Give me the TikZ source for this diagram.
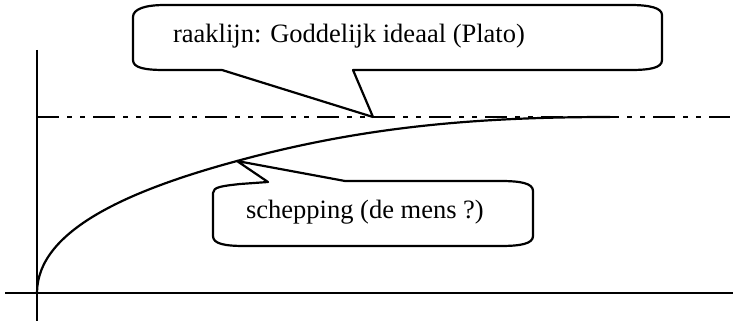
\documentclass[tikz,border=0pt]{standalone}
\usepackage{fontspec}
\setmainfont{Liberation Serif}
\usetikzlibrary{positioning}
\usetikzlibrary{calc}

\begin{document}
\begin{tikzpicture}[x=1pt,y=-1pt,line width=2.2pt,line join=round,
			font=\fontsize{26.5}{30}\selectfont]
			\tikzstyle{axis}=[line width=2pt]
			\tikzstyle{raak}=[line width=2.4pt,dash pattern=on 22pt off 8pt on 5pt off 8pt on 5pt off 8pt]
			\tikzstyle{callout}=[draw,line width=2.2pt]
			\tikzstyle{label}=[inner sep=0pt,anchor=base west]
			
			\useasboundingbox (0,0) rectangle (733,321);
			
			\coordinate (O)   at (37,293);
			\coordinate (Y_t) at (37,50);
			\coordinate (Y_b) at (37,321);
			\coordinate (X_l) at (5,293);
			\coordinate (X_r) at (733,293);
			\coordinate (R_l) at (37,117);
			\coordinate (R_r) at (730,117);
			\coordinate (E)   at (610,117);
			\coordinate (T_0) at (373,117);
			\coordinate (T_1) at (237,161);
			
			% assen
			\draw[axis] (Y_t) -- (Y_b);
			\draw[axis] (X_l) -- (X_r);
			
			% raaklijn
			\draw[raak] (R_l) -- (R_r);
			
			% kromme
			\draw (O) .. controls (37,230) and (130,190) .. (T_1)
				.. controls (365,126) and (480,117) .. (E);
			
			% ballonnen
			\draw[callout,fill=white] (133,17) -- (133,60) .. controls (133,68) and (145,70) .. (165,70)
				-- (222,70) -- (T_0) -- (353,70) -- (630,70) .. controls (650,70) and (662,68) .. (662,60)
				-- (662,15) .. controls (662,8) and (650,5) .. (630,5) -- (165,5)
				.. controls (145,5) and (133,9) .. (133,17) -- cycle;
			\draw[callout,fill=white] (213,193) -- (213,236) .. controls (213,244) and (225,246) .. (245,246)
				-- (500,246) .. controls (520,246) and (533,244) .. (533,236) -- (533,191)
				.. controls (533,183) and (520,181) .. (500,181) -- (345,181) -- (T_1) -- (268,182)
				-- (240,184) .. controls (222,186) and (213,187) .. (213,193) -- cycle;
			
			\node[label] (L_0) at (172,43)  {raaklijn: Goddelijk ideaal (Plato)};
			\node[label] (L_1) at (245,218) {schepping (de mens ?)};
			
			\end{tikzpicture}
\end{document}
